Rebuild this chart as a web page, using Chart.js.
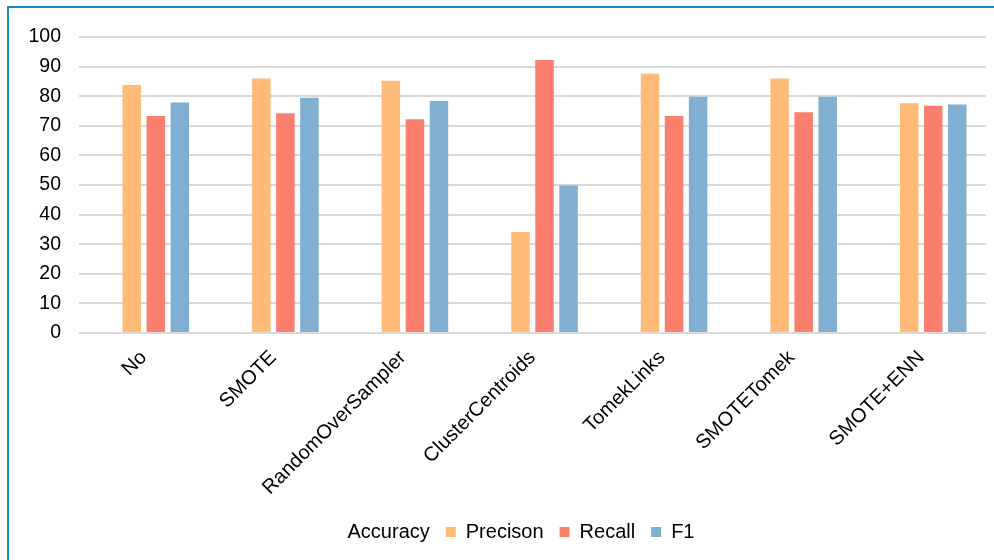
<!DOCTYPE html>
<html>
<head>
<meta charset="utf-8">
<script src="https://cdn.jsdelivr.net/npm/chart.js@4"></script>
<style>
  html, body { margin: 0; padding: 0; background: #fff; }
  #wrap { position: relative; width: 994px; height: 560px; overflow: hidden; background: #fff; }
  #wrap canvas { position: absolute; left: 0; top: 0; }
  #frame { position: absolute; left: 7px; top: 6px; width: 1100px; height: 700px;
           border-left: 2px solid #1a8ac5; border-top: 2px solid #1a8ac5; pointer-events: none; }
</style>
</head>
<body>
<div id="wrap">
  <canvas id="c" width="994" height="560"></canvas>
  <div id="frame"></div>
</div>
<script>
// Resampling methods compared
const methods = ['No', 'SMOTE', 'RandomOverSampler', 'ClusterCentroids', 'TomekLinks', 'SMOTETomek', 'SMOTE+ENN'];

// Scores (%) per method
const accuracy  = [null, null, null, null, null, null, null];
const precision = [83.8, 86.0, 85.2, 34.1, 87.6, 86.0, 77.6];
const recall    = [73.3, 74.2, 72.2, 92.2, 73.3, 74.6, 76.8];
const f1        = [77.9, 79.5, 78.4, 49.8, 79.8, 79.8, 77.2];

// Y axis range
const yMin = 0, yMax = 100, yStep = 10;

const FAMILY = '"Liberation Sans", Arial, sans-serif';
const LABEL_FONT = { family: FAMILY, size: 20 };
const TICK_FONT = { family: FAMILY, size: 19.5 };

const barStyle = { categoryPercentage: 0.742, barPercentage: 0.77, borderWidth: 0 };

// nudge the legend so it sits centred under the plot
const legendShift = {
  id: 'legendShift',
  afterLayout(chart) {
    const lg = chart.legend;
    if (lg) { lg.left += 8; lg.right += 8; }
  }
};

new Chart(document.getElementById('c'), {
  type: 'bar',
  data: {
    labels: methods,
    datasets: [
      { label: 'Accuracy', data: accuracy,  backgroundColor: 'rgba(0,0,0,0)', borderColor: 'rgba(0,0,0,0)', ...barStyle },
      { label: 'Precison', data: precision, backgroundColor: '#ffbc78', ...barStyle },
      { label: 'Recall',   data: recall,    backgroundColor: '#fb7f6f', ...barStyle },
      { label: 'F1',       data: f1,        backgroundColor: '#80afd2', ...barStyle }
    ]
  },
  plugins: [legendShift],
  options: {
    responsive: false,
    animation: false,
    devicePixelRatio: 1,
    layout: { padding: { left: 20, right: 8, top: 37, bottom: 8 } },
    plugins: {
      tooltip: { enabled: false },
      legend: {
        position: 'bottom',
        onClick: null,
        labels: {
          boxWidth: 10, boxHeight: 10, padding: 16,
          color: '#000', font: LABEL_FONT
        }
      }
    },
    scales: {
      x: {
        grid: { display: false, drawTicks: false },
        border: { display: false },
        ticks: {
          color: '#000', font: LABEL_FONT,
          maxRotation: 45, minRotation: 45,
          autoSkip: false, padding: 13
        },
        afterFit: (s) => { s.height = 173; }
      },
      y: {
        min: yMin, max: yMax,
        grid: { color: '#d9d9d9', lineWidth: 2, drawTicks: false },
        border: { display: false },
        ticks: { stepSize: yStep, color: '#000', font: TICK_FONT, padding: 18 },
        afterFit: (s) => { s.width = 59; }
      }
    }
  }
});
</script>
</body>
</html>
